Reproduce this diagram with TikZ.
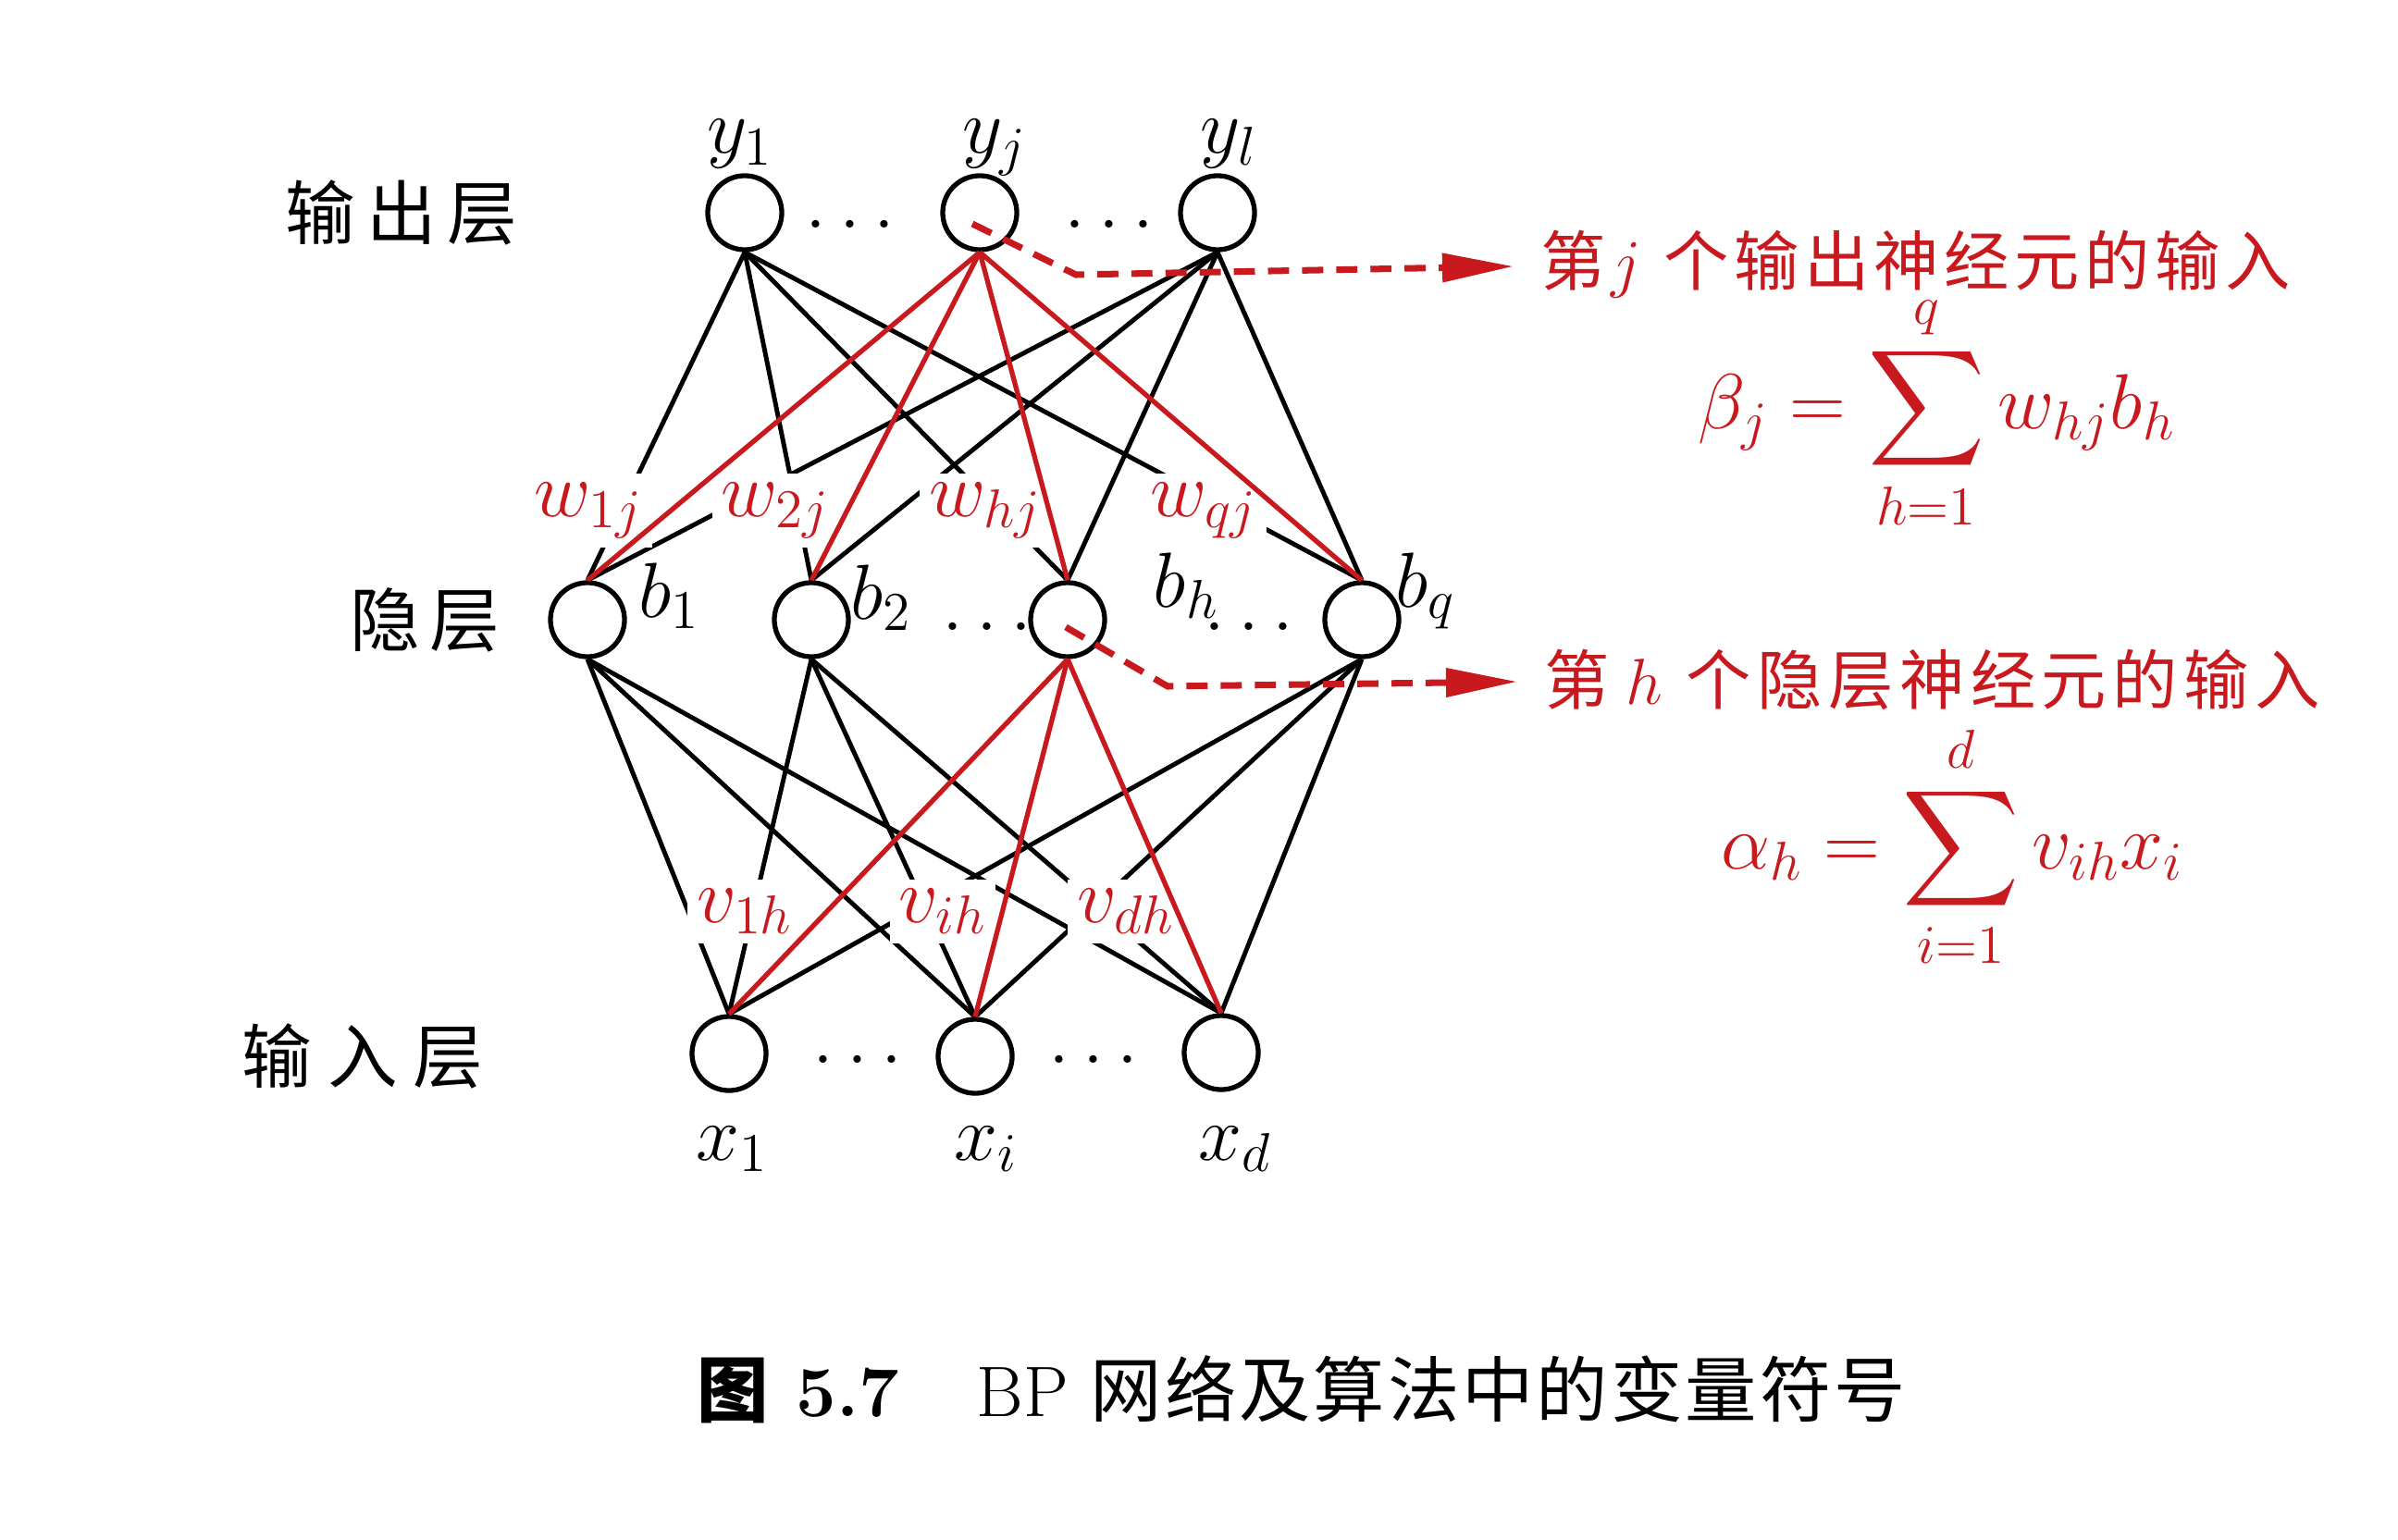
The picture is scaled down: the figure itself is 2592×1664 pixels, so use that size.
\RequirePackage{fix-cm}
\documentclass[tikz,border=0pt]{standalone}
\usepackage{exscale}
\usepackage{fontspec}
\usetikzlibrary{arrows.meta}
\newfontfamily\cjk{Noto Sans CJK SC}
\definecolor{bpred}{RGB}{200,25,30}
\tikzset{
  neuron/.style={circle, draw, line width=1.5pt, minimum size=0.8cm, inner sep=0pt},
  conn/.style={line width=1.4pt, black},
  redconn/.style={line width=1.5pt, bpred},
  wlabel/.style={fill=white, inner sep=0.1cm, text=bpred, font=\fontsize{24}{28}\selectfont, anchor=base},
  mlabel/.style={inner sep=0pt, font=\fontsize{24}{28}\selectfont, anchor=base},
  dotlab/.style={inner sep=0pt, font=\fontsize{24}{28}\selectfont, anchor=base},
  layerlab/.style={inner sep=0pt, font=\fontsize{21.5}{26}\selectfont\cjk, anchor=base west},
  redtext/.style={inner sep=0pt, text=bpred, font=\fontsize{20}{24}\selectfont, anchor=base west},
  formula/.style={inner sep=0pt, text=bpred, font=\fontsize{24}{28}\selectfont, anchor=base west},
  dasharrow/.style={bpred, line width=2pt, dash pattern=on 6.5pt off 4pt, -{Triangle[length=0.77cm,width=0.3cm]}},
  captext/.style={inner sep=0pt, font=\fontsize{22}{26}\selectfont, anchor=base west},
}
\begin{document}
\begin{tikzpicture}[x=0.01cm, y=-0.01cm]
\useasboundingbox (0,0) rectangle (2592,1664);
\fill[white] (0,0) rectangle (2592,1664);

% neurons
\node[neuron] (y1) at (805,230) {};
\node[neuron] (yj) at (1059,230) {};
\node[neuron] (yl) at (1316,230) {};
\node[neuron] (b1) at (635,670) {};
\node[neuron] (b2) at (877,670) {};
\node[neuron] (bh) at (1154,670) {};
\node[neuron] (bq) at (1472,670) {};
\node[neuron] (x1) at (788,1139) {};
\node[neuron] (xi) at (1054,1142) {};
\node[neuron] (xd) at (1320,1138) {};

% black connections
\foreach \h in {b1,b2,bh,bq} {
  \draw[conn] (y1.south) -- (\h.north);
  \draw[conn] (yl.south) -- (\h.north);
}
\foreach \i in {x1,xi,xd} {
  \draw[conn] (b1.south) -- (\i.north);
  \draw[conn] (b2.south) -- (\i.north);
  \draw[conn] (bq.south) -- (\i.north);
}

% weight labels (white background)
\node[wlabel] (w1j) at (636,558) {$w_{1j}$};
\node[wlabel] (w2j) at (838,558) {$w_{2j}$};
\node[wlabel] (whj) at (1065,558) {$w_{hj}$};
\node[wlabel] (wqj) at (1301,558) {$w_{qj}$};
\node[wlabel] (v1h) at (805,997) {$v_{1h}$};
\node[wlabel] (vih) at (1019,997) {$v_{ih}$};
\node[wlabel] (vdh) at (1217,997) {$v_{dh}$};

% red connections
\foreach \h in {b1,b2,bh,bq} {
  \draw[redconn] (yj.south) -- (\h.north);
}
\foreach \i in {x1,xi,xd} {
  \draw[redconn] (bh.south) -- (\i.north);
}

% neuron labels
\node[mlabel] (ly1) at (800,166) {$y_1$};
\node[mlabel] (lyj) at (1075,166) {$y_j$};
\node[mlabel] (lyl) at (1328,166) {$y_l$};
\node[mlabel] (lb1) at (723,667) {$b_1$};
\node[mlabel] (lb2) at (952,669) {$b_2$};
\node[mlabel] (lbh) at (1282,656) {$b_h$};
\node[mlabel] (lbq) at (1541,656) {$b_q$};
\node[mlabel] (lx1) at (791,1254) {$x_1$};
\node[mlabel] (lxi) at (1066,1254) {$x_i$};
\node[mlabel] (lxd) at (1335,1254) {$x_d$};

% dots
\node[dotlab] (d1) at (919,247) {$\ldots$};
\node[dotlab] (d2) at (1199,247) {$\ldots$};
\node[dotlab] (d3) at (1067,681) {$\ldots$};
\node[dotlab] (d4) at (1350,681) {$\ldots$};
\node[dotlab] (d5) at (927,1149) {$\ldots$};
\node[dotlab] (d6) at (1182,1149) {$\ldots$};

% layer labels
\node[layerlab] (lout) at (308,259) {输\kern0.12cm 出\kern0.12cm 层};
\node[layerlab] (lhid) at (378,698) {隐\kern0.1cm 层};
\node[layerlab] (lin) at (261,1170) {输\kern0.17cm 入\kern0.17cm 层};

% dashed arrows
\coordinate (sj) at (1051,242);
\coordinate (kj) at (1163,297);
\coordinate (tj) at (1636,288);
\coordinate (sh) at (1152,678);
\coordinate (kh) at (1262,742);
\coordinate (th) at (1640,737);
\draw[dasharrow] (sj) -- (kj) -- (tj);
\draw[dasharrow] (sh) -- (kh) -- (th);

% red texts
\node[redtext] (tx1) at (1665,309) {{\cjk 第}\kern0.05cm$j$\kern0.25cm{\cjk 个\kern0.055cm 输\kern0.055cm 出\kern0.055cm 神\kern0.055cm 经\kern0.055cm 元\kern0.055cm 的\kern0.055cm 输\kern0.055cm 入}};
\node[redtext] (tx2) at (1669,761) {{\cjk 第}\kern0.17cm$h$\kern0.26cm{\cjk 个\kern0.065cm 隐\kern0.065cm 层\kern0.065cm 神\kern0.065cm 经\kern0.065cm 元\kern0.065cm 的\kern0.065cm 输\kern0.065cm 入}};

% formulas
\node[formula] (f1) at (1835,463) {$\displaystyle \beta_j=\sum_{h=1}^{q} w_{hj}b_h$};
\node[formula] (f2) at (1860,939) {$\displaystyle \alpha_h=\sum_{i=1}^{d} v_{ih}x_i$};

% caption
\node[captext] (c1) at (753,1531) {\cjk\bfseries 图};
\node[captext] (c2) at (860,1531) {\bfseries 5.7};
\node[captext] (c3) at (1055,1531) {BP};
\node[captext] (c4) at (1178,1531) {\cjk 网\kern0.03cm 络\kern0.03cm 及\kern0.03cm 算\kern0.03cm 法\kern0.03cm 中\kern0.03cm 的\kern0.03cm 变\kern0.03cm 量\kern0.03cm 符\kern0.03cm 号};
\end{tikzpicture}
\end{document}
